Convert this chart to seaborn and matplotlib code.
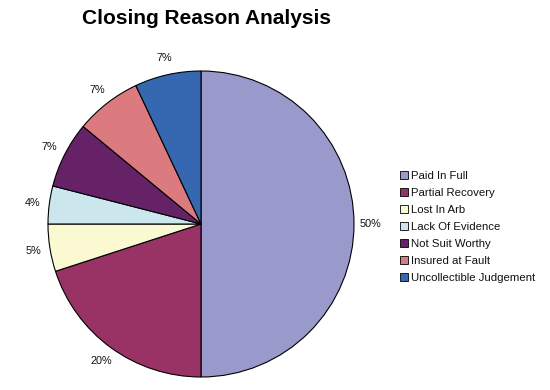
import matplotlib
matplotlib.use('Agg')
import matplotlib.pyplot as plt
import seaborn as sns

sns.set_theme(style='white')
plt.rcParams['font.family'] = ['Liberation Sans', 'DejaVu Sans']

# data
reasons = ['Paid In Full', 'Partial Recovery', 'Lost In Arb', 'Lack Of Evidence',
           'Not Suit Worthy', 'Insured at Fault', 'Uncollectible Judgement']
shares = [50, 20, 5, 4, 7, 7, 7]
colors = ['#9999CC', '#993366', '#FBF9D2', '#CCE6EE', '#662266', '#DC7B7F', '#3568B0']

fig = plt.figure(figsize=(5.5, 3.9), dpi=100)
ax = fig.add_axes([48 / 550, 13 / 390, 306 / 550, 306 / 390])

wedges, texts = ax.pie(shares, colors=colors, startangle=90, counterclock=False,
                       labels=[f'{s}%' for s in shares], labeldistance=1.11,
                       wedgeprops={'edgecolor': 'black', 'linewidth': 0.8},
                       textprops={'fontsize': 7.8, 'color': '#111111'})
for t in texts:
    t.set_horizontalalignment('center')
    t.set_verticalalignment('center')
ax.set_xlim(-1, 1)
ax.set_ylim(-1, 1)
ax.set_aspect('equal')

fig.text(206 / 550, 1 - 18 / 390, 'Closing Reason Analysis', ha='center', va='center',
         fontsize=15, fontweight='bold', color='black')

leg = fig.legend(wedges, reasons, loc='center left', bbox_to_anchor=(394 / 550, 1 - 227 / 390),
                 frameon=False, fontsize=8.2, handlelength=0.7, handleheight=0.7,
                 handletextpad=0.3, labelspacing=0.62, borderpad=0, labelcolor='#111111')
for h in leg.legend_handles:
    h.set_linewidth(0.6)

fig.savefig('out.png', dpi=100)
